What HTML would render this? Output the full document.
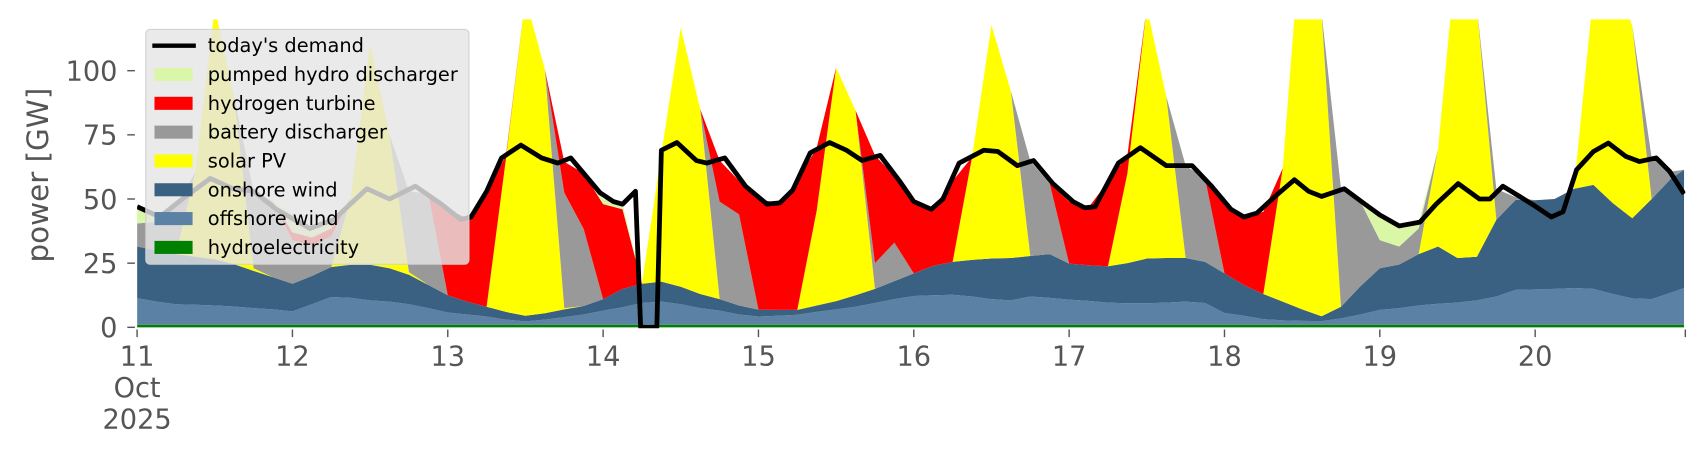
<!DOCTYPE html>
<html><head><meta charset="utf-8">
<style>
html,body{margin:0;padding:0;background:#fff;}
svg{display:block;}
text{font-family:"DejaVu Sans","Liberation Sans",sans-serif;}
</style></head>
<body>
<svg id="chart" width="1706" height="460" viewBox="0 0 1568 423" preserveAspectRatio="none" xmlns="http://www.w3.org/2000/svg">
<defs><clipPath id="plotclip"><rect x="126" y="17.8" width="1423" height="284"/></clipPath></defs>
<g id="areas" clip-path="url(#plotclip)"></g>
<g id="demandg" clip-path="url(#plotclip)"></g>
<g id="axes"></g>
<text x="0" y="0" transform="translate(44,161) rotate(-90)" text-anchor="middle" font-size="27" fill="#555">power [GW]</text>
<g id="legend"></g>
</svg>
<script>
const hours=[0,3,6,9,12,15,18,21,24,27,30,33,36,39,42,45,48,51,54,57,60,63,66,69,72,75,78,81,84,87,90,93,96,99,102,105,108,111,114,117,120,123,126,129,132,135,138,141,144,147,150,153,156,159,162,165,168,171,174,177,180,183,186,189,192,195,198,201,204,207,210,213,216,219,222,225,228,231,234,237,239];
const hydro=[1,1,1,1,1,1,1,1,1,1,1,1,1,1,1,1,1,1,1,1,1,1,1,1,1,1,1,1,1,1,1,1,1,1,1,1,1,1,1,1,1,1,1,1,1,1,1,1,1,1,1,1,1,1,1,1,1,1,1,1,1,1,1,1,1,1,1,1,1,1,1,1,1,1,1,1,1,1,1,1,1];
const offshore=[10.4,9,8,7.8,7.5,7.1,6.5,6,5.2,8,10.8,10.5,9.5,9,8,6.5,4.8,4,3.2,2,1.3,2,3,4,5.5,6.8,8.5,9,8,6.5,5.5,4,3.2,3.5,3.9,5,6,7,8.5,10,11.2,11.5,11.7,11,10,9.5,11,10.5,9.8,9.3,8.6,8.4,8.4,8.6,9,8.5,4.6,3.5,2.2,1.7,1.5,1.4,2.5,4,5.8,6.5,7.5,8.2,8.6,9.5,11,13.6,13.8,14,14.3,14,12,10.3,10,12.5,14.3];
const onshore=[20.1,20,19.5,18.7,18,16.5,14.5,12.5,10.8,11,11.7,12.9,13.9,13,11.5,9,6.7,5,3.8,3,2.2,2.5,3,3.3,4.5,7.2,7.5,7.8,6.8,5.5,4.5,3.5,2.7,2.3,1.9,2.5,3.2,4.5,5.5,7,8.8,11.5,12.8,14.3,15.8,16.5,15.8,17,14,13.9,14.2,15.6,17.4,17.4,17,16,15.4,12,9.8,7.3,4.5,1.9,4.5,11,16.2,17,20,22.3,17.4,17,29.9,35.1,34.7,35,38.7,40.5,35.4,31.2,39,44.5,46.1];
const solar=[0,0,0,33,98,65,1,0,0,0,0,26,86,52,1,0,0,0,0,60,124,95,0.5,0,0,0,0,50,101,72,0,0,0,0,0,37,91,72,0,0,0,0,0,40,91,65,0,0,0,0,0,35,98,63,0,0,0,0,0,52,153,118,0,0,0,0,0,38,123,97,0,0,0,0,0,75,90,75,0,0,0];
const battery=[9,11,18.5,0,0,0,30,29.5,17,12,12,0,0,0,31.5,35.5,0,0,0,0,0,0,45,30,0,0,0,0,0,0,38,35.5,0,0,0,0,0,0,10,15,0,0,0,0,0,0,37,27.5,0,0,0,0,0,0,36,32.5,0,0,0,0,0,0,46,33,11,7,10,0,0,0,12,1,0,0,0,0,0,0,16,2.7,0];
const hydrogen=[0,0,0,0,0,0,0,0,3,3,3,0,0,0,0,0,33.5,32.5,45,1,0,0,12,21.7,37,31,0,0,0,0,16,13,43,41.7,50,24.5,0,0,42,26,28,22.5,31.5,0,0,0,0,0,24.2,22.5,33,7,0,0,0,0,28,26.5,32,0,0,0,0,0,0,0,0,0,0,0,0,0,0,0,0,0,0,0,0,0,0];
const pumped=[6.5,2.5,0,0,0,0,0,0,7,3.5,3,0,0,0,0,0,0,0,0,0,0,0,0,0,2,2,0,0,0,0,0,0,0,0,0,0,0,0,0,0,0,0,0,0,0,0,0,0,0,0,0,0,0,0,0,0,0,0,0,0,0,0,0,0,9.8,8,2.5,0,0,0,0,0,0,0,0,0,0,0,0,0,0];
const demandHours=[0,3.5,7,11.3,14.8,18,21.5,26.7,30.4,35.5,39,43,47,50,51.6,54,56.3,59.3,62.5,65,67,71.5,73.6,75,77,77.8,80.3,81,83.4,86.4,88,90.8,94,97.3,99.3,101.3,104,107,109.6,112,114.8,117.8,120,122.7,124.5,127,130.8,133,136,138.5,141.5,144.6,146.4,148,151.6,155,159,163,166,169,171,173,175.8,178.8,181,183,186.5,189.7,192,195,198.2,200.7,204.1,207.4,209,211,213.6,215.7,218.5,220.3,222.4,225,227.3,230,232.1,234.7,236.8,239];
const demand=[47,43,50,58,54,53,46,38.5,42,54,50,55,48,42,43,53,66,71,66,64,66,52.5,49,48,53,0,0,69,72,65,64,66,55,48,48.5,53.5,68,72,69,65,67,57,49,46,50,64,69,68.5,63,65,56,49,46.6,47,64,70,63,63,55,46,43,44.5,51,57.5,53,51,54,48,43.8,39.5,41,48,56,50,50,55,51,47.7,43,45,61.4,68.5,71.8,66.6,64.6,66,60.7,52];
const yTicks=[0,25,50,75,100];
const xTickDays=[11,12,13,14,15,16,17,18,19,20];

const NS='http://www.w3.org/2000/svg';
const X0=126, PXH=5.949, Y0=301, PXV=2.36;
function xs(h){return X0+h*PXH;}
function ys(v){return Y0-v*PXV;}
function mk(tag,attrs,parent){const e=document.createElementNS(NS,tag);for(const k in attrs)e.setAttribute(k,attrs[k]);parent.appendChild(e);return e;}

const series=[
 {name:'hydroelectricity',vals:hydro,color:'#008000'},
 {name:'offshore wind',vals:offshore,color:'#5b81a5'},
 {name:'onshore wind',vals:onshore,color:'#3b6182'},
 {name:'solar PV',vals:solar,color:'#ffff00'},
 {name:'battery discharger',vals:battery,color:'#999999'},
 {name:'hydrogen turbine',vals:hydrogen,color:'#ff0000'},
 {name:'pumped hydro discharger',vals:pumped,color:'#daf7a8'}
];
const areas=document.getElementById('areas');
let base=hours.map(()=>0);
series.forEach(s=>{
  const top=base.map((b,i)=>b+s.vals[i]);
  let d='M'+hours.map((h,i)=>xs(h).toFixed(2)+','+ys(top[i]).toFixed(2)).join(' L');
  for(let i=hours.length-1;i>=0;i--) d+=' L'+xs(hours[i]).toFixed(2)+','+ys(base[i]).toFixed(2);
  d+=' Z';
  const p=mk('path',{d:d,fill:s.color,stroke:'none'},areas);
  
  
  base=top;
});
const dg=document.getElementById('demandg');
const dl=mk('polyline',{points:demandHours.map((h,i)=>xs(h).toFixed(2)+','+ys(demand[i]).toFixed(2)).join(' '),fill:'none',stroke:'#000','stroke-width':4.4,'stroke-linejoin':'round'},dg);



const ax=document.getElementById('axes');
yTicks.forEach(v=>{
  const t=mk('line',{x1:117,x2:124,y1:ys(v),y2:ys(v),stroke:'#555','stroke-width':1.3},ax);
  
  
  const l=mk('text',{x:108,y:ys(v)+9,'text-anchor':'end','font-size':25,fill:'#555'},ax);
  l.textContent=String(v);
  
  
});
xTickDays.forEach((d,i)=>{
  const x=xs(i*24);
  const t=mk('line',{x1:x,x2:x,y1:303,y2:310,stroke:'#555','stroke-width':1.3},ax);
  
  
  const l=mk('text',{x:x,y:336,'text-anchor':'middle','font-size':25,fill:'#555'},ax);
  l.textContent=String(d);
  
  
});
const et=mk('line',{x1:1549,x2:1549,y1:303,y2:310,stroke:'#555','stroke-width':1.3},ax);


[['Oct',365],['2025',394]].forEach(([s,y])=>{
  const l=mk('text',{x:xs(0),y:y,'text-anchor':'middle','font-size':25,fill:'#555'},ax);
  l.textContent=s;
  
  
});

const lg=document.getElementById('legend');
const bg=mk('rect',{x:134,y:27,width:297,height:216,rx:4,fill:'rgba(229,229,229,0.82)',stroke:'#d0d0d0','stroke-width':1},lg);


const entries=[['today\'s demand','#000',true]].concat(series.slice().reverse().map(s=>[s.name,s.color,false]));
entries.forEach((e,i)=>{
  const y=42+i*26.5;
  if(e[2]){
    const m=mk('line',{x1:140,x2:180,y1:y,y2:y,stroke:'#000','stroke-width':4}, lg);
    
    
  } else {
    const m=mk('rect',{x:142,y:y-6,width:35,height:12,fill:e[1]},lg);
    
    
  }
  const t=mk('text',{x:191,y:y+6,'font-size':17.8,fill:'#000'},lg);
  t.textContent=e[0];
  
  
});
</script>
</body></html>
